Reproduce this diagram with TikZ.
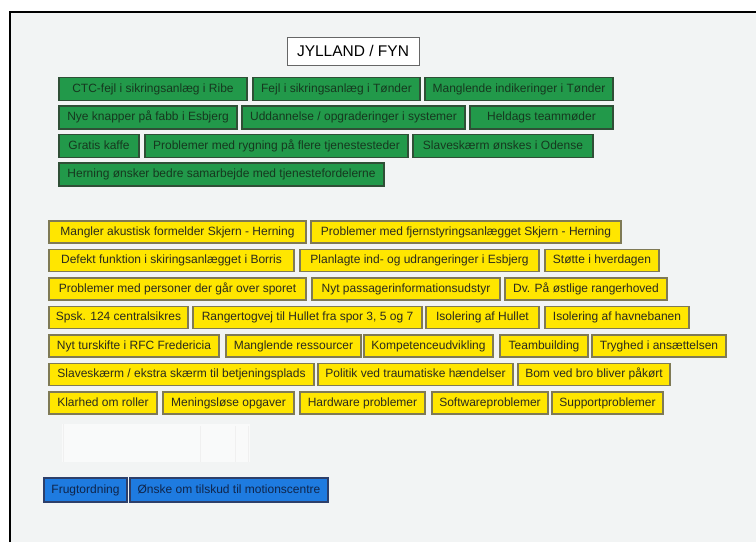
\documentclass[tikz,border=0pt]{standalone}
\usepackage{fontspec}
\setmainfont{Liberation Sans}
\definecolor{bgc}{HTML}{F2F4F4}
\definecolor{grn}{HTML}{22994A}
\definecolor{grnb}{HTML}{2F4F36}
\definecolor{grnt}{HTML}{16381F}
\definecolor{ylw}{HTML}{FFE600}
\definecolor{ylwb}{HTML}{7F7A55}
\definecolor{ylwt}{HTML}{2A2A1E}
\definecolor{blu}{HTML}{1E7BE0}
\definecolor{blub}{HTML}{2D3F6A}
\definecolor{blut}{HTML}{10254A}
\newcommand\bx[6]{\node[#1, minimum width={(#4-#3)*1pt}] (#2) at ({(#3+#4)/2},#5) {#6};}
\begin{document}
\begin{tikzpicture}[x=1pt,y=-1pt,
  boxbase/.style={draw, line width=1.1pt, inner sep=0pt, minimum height=23pt, text height=8.8pt, text depth=2.6pt, font=\fontsize{12}{14}\selectfont},
  gbox/.style={boxbase, fill=grn, draw=grnb, text=grnt},
  ybox/.style={boxbase, fill=ylw, draw=ylwb, text=ylwt, minimum height=22pt},
  bbox/.style={boxbase, fill=blu, draw=blub, text=blut, minimum height=24pt},
  tbox/.style={draw=black!60, line width=0.9pt, fill=white, inner sep=0pt, minimum height=28pt, text height=11pt, text depth=0.5pt, font=\fontsize{15.5}{18}\selectfont}]
\useasboundingbox (0,0) rectangle (756,542);
\fill[white] (0,0) rectangle (756,542);
\fill[bgc] (10,12) rectangle (756,542);
\draw[black, line width=1.4pt] (10,542) -- (10,12) -- (756,12);
% faint ghost patch
\fill[white, opacity=0.6] (62,424) rectangle (250,462);
\draw[black!6, line width=0.6pt] (63,424) -- (63,462) (200,426) -- (200,462) (235,426) -- (235,462) (248,426) -- (248,462);
% title
\bx{tbox}{title}{287}{419}{51}{JYLLAND / FYN}
% green
\bx{gbox}{g11}{59}{247}{89}{CTC-fejl i sikringsanlæg i Ribe}
\bx{gbox}{g12}{253}{420}{89}{Fejl i sikringsanlæg i Tønder}
\bx{gbox}{g13}{425}{613}{89}{Manglende indikeringer i Tønder}
\bx{gbox}{g21}{59}{237}{117.5}{Nye knapper på fabb i Esbjerg}
\bx{gbox}{g22}{242}{465}{117.5}{Uddannelse / opgraderinger i systemer}
\bx{gbox}{g23}{470}{613}{117.5}{Heldags teammøder}
\bx{gbox}{g31}{59}{139}{146}{Gratis kaffe}
\bx{gbox}{g32}{145}{408}{146}{Problemer med rygning på flere tjenestesteder}
\bx{gbox}{g33}{413}{593}{146}{Slaveskærm ønskes i Odense}
\bx{gbox}{g41}{59}{384}{174.5}{Herning ønsker bedre samarbejde med tjenestefordelerne}
% yellow
\bx{ybox}{y11}{49}{306}{232}{Mangler akustisk formelder Skjern - Herning}
\bx{ybox}{y12}{311}{621}{232}{Problemer med fjernstyringsanlægget Skjern - Herning}
\bx{ybox}{y21}{49}{294}{260.5}{Defekt funktion i skiringsanlægget i Borris}
\bx{ybox}{y22}{300}{539}{260.5}{Planlagte ind- og udrangeringer i Esbjerg}
\bx{ybox}{y23}{545}{659}{260.5}{Støtte i hverdagen}
\bx{ybox}{y31}{49}{306}{289}{Problemer med personer der går over sporet}
\bx{ybox}{y32}{312}{500}{289}{Nyt passagerinformationsudstyr}
\bx{ybox}{y33}{505}{667}{289}{Dv. På østlige rangerhoved}
\bx{ybox}{y41}{49}{188}{317.5}{Spsk. 124 centralsikres}
\bx{ybox}{y42}{193}{422}{317.5}{Rangertogvej til Hullet fra spor 3, 5 og 7}
\bx{ybox}{y43}{426}{539}{317.5}{Isolering af Hullet}
\bx{ybox}{y44}{545}{689}{317.5}{Isolering af havnebanen}
\bx{ybox}{y51}{49}{219}{346}{Nyt turskifte i RFC Fredericia}
\bx{ybox}{y52}{226}{361}{346}{Manglende ressourcer}
\bx{ybox}{y53}{364}{493}{346}{Kompetenceudvikling}
\bx{ybox}{y54}{500}{588}{346}{Teambuilding}
\bx{ybox}{y55}{592}{726}{346}{Tryghed i ansættelsen}
\bx{ybox}{y61}{49}{314}{374.5}{Slaveskærm / ekstra skærm til betjeningsplads}
\bx{ybox}{y62}{318}{513}{374.5}{Politik ved traumatiske hændelser}
\bx{ybox}{y63}{518}{670}{374.5}{Bom ved bro bliver påkørt}
\bx{ybox}{y71}{49}{157}{403}{Klarhed om roller}
\bx{ybox}{y72}{163}{294}{403}{Meningsløse opgaver}
\bx{ybox}{y73}{300}{425}{403}{Hardware problemer}
\bx{ybox}{y74}{432}{548}{403}{Softwareproblemer}
\bx{ybox}{y75}{552}{663}{403}{Supportproblemer}
% blue
\bx{bbox}{b1}{44}{127}{490}{Frugtordning}
\bx{bbox}{b2}{130}{328}{490}{Ønske om tilskud til motionscentre}
\end{tikzpicture}
\end{document}
